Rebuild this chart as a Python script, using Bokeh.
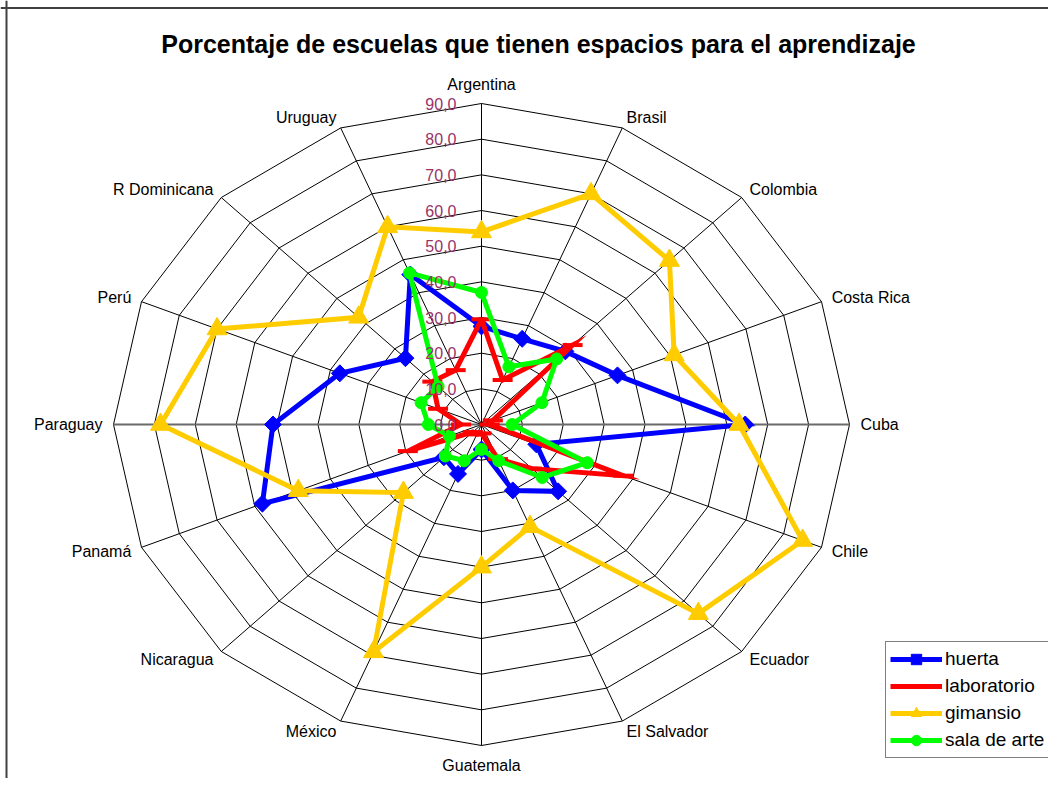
import numpy as np
from bokeh.plotting import figure
from bokeh.models import Range1d, Legend, LegendItem, Label, Span
from bokeh.embed import file_html
from bokeh.resources import INLINE

# ---------------- data ----------------
categories = ["Argentina", "Brasil", "Colombia", "Costa Rica", "Cuba", "Chile",
              "Ecuador", "El Salvador", "Guatemala", "México", "Nicaragua",
              "Panamá", "Paraguay", "Perú", "R Dominicana", "Uruguay"]
huerta = [27.5, 26.0, 29.0, 36.0, 64.5, 14.5, 26.5, 20.0, 7.0, 15.0, 13.0,
          58.0, 51.0, 37.5, 26.3, 45.5]
laboratorio = [29.5, 13.5, 31.5, 3.0, 2.0, 37.5, 17.5, 10.5, 2.5, 3.0, 3.0,
               19.5, 5.0, 11.5, 17.0, 16.5]
gimansio = [54.0, 70.0, 65.0, 51.0, 63.0, 85.0, 75.0, 31.0, 40.0, 69.0, 27.0,
            48.5, 78.5, 70.0, 42.5, 60.0]
sala_de_arte = [37.0, 17.5, 26.0, 16.0, 7.5, 28.0, 21.0, 11.0, 7.0, 11.0, 12.5,
                8.5, 13.0, 16.0, 15.0, 46.0]
series_names = ["huerta", "laboratorio", "gimansio", "sala de arte"]
ring_values = [10, 20, 30, 40, 50, 60, 70, 80, 90]
tick_values = [0, 10, 20, 30, 40, 50, 60, 70, 80, 90]
tick_labels = ["0,0", "10,0", "20,0", "30,0", "40,0", "50,0", "60,0", "70,0", "80,0", "90,0"]
title_text = "Porcentaje de escuelas que tienen espacios para el aprendizaje"
r_max = 90

# ---------------- geometry ----------------
W, H = 1048, 778
CX, CY = 481, 424            # centre of the radar in frame pixels (from top-left)
SX, SY = 368 / 90, 321 / 90  # pixels per unit, horizontally / vertically

FONT = "Liberation Sans"

p = figure(width=W, height=H,
           x_range=Range1d(-CX / SX, (W - CX) / SX),
           y_range=Range1d(-(H - CY) / SY, CY / SY),
           output_backend="svg", toolbar_location=None,
           x_axis_location=None, y_axis_location=None,
           min_border=0, outline_line_color=None,
           background_fill_color="white", border_fill_color="white")
p.grid.visible = False

n = len(categories)
theta = np.arange(n) * 2 * np.pi / n
s, c = np.sin(theta), np.cos(theta)

# rings
ring_xs = [list(np.append(r * s, r * s[0])) for r in ring_values]
ring_ys = [list(np.append(r * c, r * c[0])) for r in ring_values]
p.multi_line(ring_xs, ring_ys, line_color="black", line_width=1)

# spokes
for i in range(n):
    horiz = abs(c[i]) < 1e-9
    p.segment(x0=0, y0=0, x1=r_max * s[i], y1=r_max * c[i],
              line_color="#6a6a6a" if horiz else "black",
              line_width=1.8 if horiz else 1)

# series
colors = ["#0000FF", "#FF0000", "#FFCC00", "#00FF00"]
data = [huerta, laboratorio, gimansio, sala_de_arte]
marker_specs = [
    dict(marker="square", angle=np.pi / 4, size=12),
    dict(marker="dash", size=20, line_width=4),
    dict(marker="triangle", size=20),
    dict(marker="circle", size=12),
]
items = []
for name, vals, col, ms in zip(series_names, data, colors, marker_specs):
    v = np.array(vals)
    xs = np.append(v * s, v[0] * s[0])
    ys = np.append(v * c, v[0] * c[0])
    lr = p.line(xs, ys, line_color=col, line_width=5, line_join="miter")
    mr = p.scatter(v * s, v * c, fill_color=col, line_color=col, **ms)
    items.append(LegendItem(label=name, renderers=[lr, mr]))

# category labels
d = 11
for i, cat in enumerate(categories):
    if s[i] > 0.2:
        al = "left"
    elif s[i] < -0.2:
        al = "right"
    else:
        al = "center"
    if c[i] > 0.95:
        bl = "bottom"
    elif c[i] < -0.95:
        bl = "top"
    else:
        bl = "middle"
    p.add_layout(Label(x=r_max * s[i] + d * s[i] / SX,
                       y=r_max * c[i] + d * c[i] / SY,
                       text=cat, text_align=al, text_baseline=bl,
                       text_font=FONT, text_font_size="16px", text_color="black"))

# value (tick) labels
for tv, tl in zip(tick_values, tick_labels):
    p.add_layout(Label(x=-25 / SX, y=tv, text=tl, text_align="right",
                       text_baseline="middle", text_font=FONT,
                       text_font_size="16px", text_color="#993366"))

# title
p.add_layout(Label(x=(538 - CX) / SX, y=(CY - 43) / SY, text=title_text,
                   text_align="center", text_baseline="middle",
                   text_font=FONT, text_font_style="bold",
                   text_font_size="25px", text_color="black"))

# chart border (left and top edges visible in the reference)
p.add_layout(Span(location=(6 - CX) / SX, dimension="height",
                  line_color="#404040", line_width=2))
p.add_layout(Span(location=(CY - 7.5) / SY, dimension="width",
                  line_color="#404040", line_width=2))

legend = Legend(items=items, location=(885, 20),
                border_line_color="black", border_line_width=1,
                background_fill_color="white", background_fill_alpha=1,
                label_text_font=FONT, label_text_font_size="19px",
                label_text_color="black",
                glyph_width=52, glyph_height=26, label_height=26,
                spacing=1, padding=4, margin=0, label_standoff=3)
p.add_layout(legend)

open("out.html", "w").write(file_html(p, INLINE))
